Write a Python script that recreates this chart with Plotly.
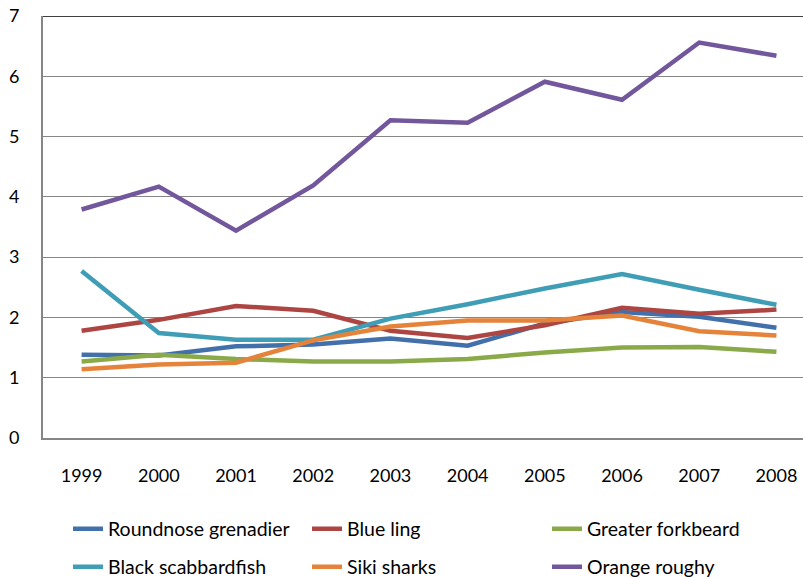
import plotly.graph_objects as go

years = ["1999", "2000", "2001", "2002", "2003", "2004", "2005", "2006", "2007", "2008"]

roundnose_grenadier = [1.38, 1.37, 1.52, 1.55, 1.65, 1.53, 1.90, 2.09, 2.01, 1.83]
blue_ling = [1.78, 1.96, 2.19, 2.11, 1.78, 1.66, 1.87, 2.16, 2.06, 2.13]
greater_forkbeard = [1.27, 1.38, 1.31, 1.27, 1.27, 1.31, 1.42, 1.50, 1.51, 1.43]
black_scabbardfish = [2.77, 1.74, 1.63, 1.63, 1.98, 2.22, 2.48, 2.72, 2.46, 2.21]
siki_sharks = [1.14, 1.22, 1.25, 1.62, 1.85, 1.95, 1.95, 2.03, 1.77, 1.70]
orange_roughy = [3.79, 4.17, 3.44, 4.19, 5.27, 5.23, 5.91, 5.61, 6.56, 6.34]

series = [
    ("Roundnose grenadier", roundnose_grenadier, "#4270ab"),
    ("Blue ling", blue_ling, "#ad4542"),
    ("Greater forkbeard", greater_forkbeard, "#8aaa4a"),
    ("Black scabbardfish", black_scabbardfish, "#3f9db6"),
    ("Siki sharks", siki_sharks, "#e5833b"),
    ("Orange roughy", orange_roughy, "#73579c"),
]

W, H = 803, 578
ML, MR, MT, MB = 43, 0, 16, 140

legend_x_px = [68, 307, 547]
legend_y_px = [529, 567]

fig = go.Figure()
layout_legends = {}
for i, (name, vals, col) in enumerate(series):
    key = "legend" if i == 0 else f"legend{i+1}"
    fig.add_trace(go.Scatter(
        x=years, y=vals, name=name, mode="lines",
        line=dict(color=col, width=4.5),
        legend=key, showlegend=True,
    ))
    layout_legends[key] = dict(
        xref="container", yref="container",
        x=legend_x_px[i % 3] / W, y=1 - legend_y_px[i // 3] / H,
        xanchor="left", yanchor="middle",
        bgcolor="rgba(0,0,0,0)",
        font=dict(family="Lato, Calibri, sans-serif", size=19.5, color="#000000"),
    )

fig.update_layout(
    width=W, height=H,
    showlegend=True,
    margin=dict(l=ML, r=MR, t=MT, b=MB, pad=0, autoexpand=False),
    paper_bgcolor="white", plot_bgcolor="white",
    font=dict(family="Lato, Calibri, sans-serif", size=18, color="#000000"),
    xaxis=dict(
        type="category", range=[-0.5, 9.344],
        showgrid=False, showline=True, linecolor="#868686", linewidth=2,
        ticks="", ticklabelstandoff=20, zeroline=False,
    ),
    yaxis=dict(
        range=[0, 7], dtick=1, showgrid=True, gridcolor="#868686", gridwidth=1,
        showline=True, linecolor="#868686", linewidth=2,
        ticks="", ticklabelstandoff=18, zeroline=False,
    ),
    shapes=[dict(type="line", xref="x domain", yref="y", x0=0, x1=1, y0=7, y1=7,
                 line=dict(color="#000000", width=1.5))],
    **layout_legends,
)

fig.write_html("out.html")
